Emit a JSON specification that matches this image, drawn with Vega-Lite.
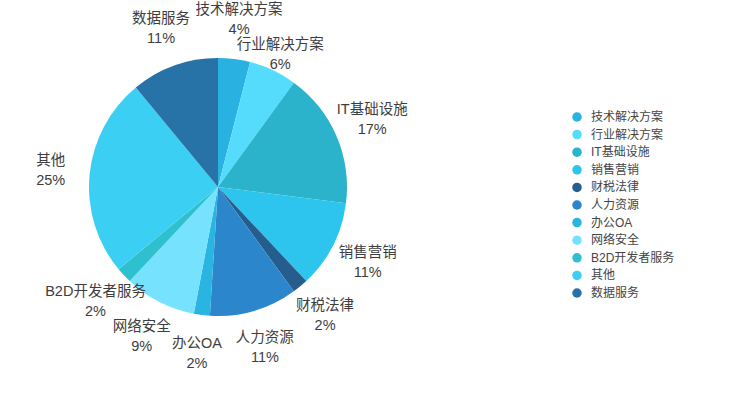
{
  "$schema": "https://vega.github.io/schema/vega-lite/v6.json",
  "width": 436,
  "height": 374,
  "autosize": "none",
  "padding": {"left": 0, "top": 0, "right": 303, "bottom": 31},
  "config": {
    "view": {"stroke": null},
    "font": "Helvetica Neue, Liberation Sans, Noto Sans CJK SC, sans-serif"
  },
  "data": {
    "values": [
      {"i": 1, "name": "技术解决方案", "value": 0.04},
      {"i": 2, "name": "行业解决方案", "value": 0.06},
      {"i": 3, "name": "IT基础设施", "value": 0.17},
      {"i": 4, "name": "销售营销", "value": 0.11},
      {"i": 5, "name": "财税法律", "value": 0.02},
      {"i": 6, "name": "人力资源", "value": 0.11},
      {"i": 7, "name": "办公OA", "value": 0.02},
      {"i": 8, "name": "网络安全", "value": 0.09},
      {"i": 9, "name": "B2D开发者服务", "value": 0.02},
      {"i": 10, "name": "其他", "value": 0.25},
      {"i": 11, "name": "数据服务", "value": 0.11}
    ]
  },
  "encoding": {
    "theta": {"field": "value", "type": "quantitative", "stack": true},
    "order": {"field": "i", "type": "quantitative"}
  },
  "layer": [
    {
      "mark": {"type": "arc", "radius": 129},
      "encoding": {
        "color": {
          "field": "name",
          "type": "nominal",
          "sort": null,
          "scale": {
            "domain": ["技术解决方案", "行业解决方案", "IT基础设施", "销售营销", "财税法律", "人力资源", "办公OA", "网络安全", "B2D开发者服务", "其他", "数据服务"],
            "range": ["#28b1e1", "#55dcfc", "#2ab3cb", "#2dc5ee", "#255e8e", "#2b86cc", "#29b4e2", "#77e2fd", "#2ec0cf", "#3ccff4", "#2772a6"]
          },
          "legend": {
            "title": null,
            "orient": "none",
            "legendX": 571,
            "legendY": 111,
            "padding": 0,
            "symbolType": "circle",
            "symbolSize": 90,
            "symbolStrokeWidth": 0,
            "labelFontSize": 12,
            "labelColor": "#444444",
            "labelOffset": 8,
            "rowPadding": 5.6
          }
        }
      }
    },
    {
      "mark": {"type": "text", "radius": 168, "dy": -10, "fontSize": 14.5, "color": "#3d3d3d"},
      "encoding": {
        "detail": {"field": "name"},
        "text": {"field": "name", "type": "nominal"},
        "opacity": {"condition": {"test": "datum.name === '行业解决方案'", "value": 0}, "value": 1}
      }
    },
    {
      "mark": {"type": "text", "radius": 168, "dy": 10, "fontSize": 14.5, "color": "#3d3d3d"},
      "encoding": {
        "detail": {"field": "name"},
        "text": {"field": "value", "type": "quantitative", "format": ".0%"},
        "opacity": {"condition": {"test": "datum.name === '行业解决方案'", "value": 0}, "value": 1}
      }
    },
    {
      "mark": {"type": "text", "radius": 146, "dy": -10, "fontSize": 14.5, "color": "#3d3d3d"},
      "encoding": {
        "detail": {"field": "name"},
        "text": {"field": "name", "type": "nominal"},
        "opacity": {"condition": {"test": "datum.name === '行业解决方案'", "value": 1}, "value": 0}
      }
    },
    {
      "mark": {"type": "text", "radius": 146, "dy": 10, "fontSize": 14.5, "color": "#3d3d3d"},
      "encoding": {
        "detail": {"field": "name"},
        "text": {"field": "value", "type": "quantitative", "format": ".0%"},
        "opacity": {"condition": {"test": "datum.name === '行业解决方案'", "value": 1}, "value": 0}
      }
    }
  ]
}
